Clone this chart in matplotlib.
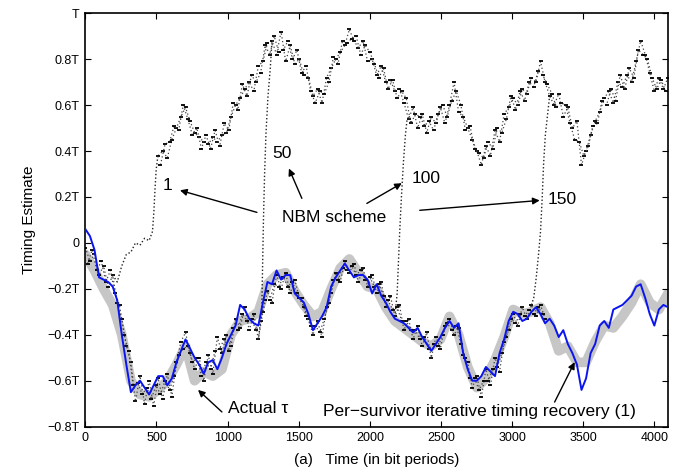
import numpy as np
import matplotlib
matplotlib.use("Agg")
import matplotlib.pyplot as plt

# ---------- DATA ----------

# actual timing offset tau, sampled every 64 bit periods
TAU_STEP = 64
tau = [-0.05, -0.12, -0.20, -0.27, -0.40, -0.60, -0.66, -0.67, -0.64, -0.60,
       -0.53, -0.45, -0.60, -0.56, -0.58, -0.55, -0.40, -0.34, -0.33, -0.30,
       -0.18, -0.14, -0.13, -0.21, -0.27, -0.32, -0.30, -0.20, -0.11, -0.07,
       -0.13, -0.19, -0.20, -0.28, -0.34, -0.37, -0.40, -0.43, -0.45, -0.42,
       -0.32, -0.40, -0.54, -0.63, -0.59, -0.51, -0.41, -0.29, -0.31, -0.30,
       -0.28, -0.35, -0.47, -0.45, -0.52, -0.52, -0.43, -0.36, -0.37, -0.32,
       -0.26, -0.18, -0.26, -0.29, -0.22]

# per-survivor iterative timing estimate, every 32 bit periods
PS_STEP = 32
per_survivor = [
    0.06, 0.03, -0.03, -0.15, -0.16, -0.17, -0.19, -0.25, -0.40, -0.53,
    -0.65, -0.62, -0.60, -0.63, -0.66, -0.62, -0.58, -0.58, -0.62, -0.59,
    -0.52, -0.47, -0.42, -0.46, -0.50, -0.53, -0.57, -0.52, -0.51, -0.55,
    -0.50, -0.44, -0.40, -0.36, -0.27, -0.29, -0.33, -0.35, -0.36, -0.26,
    -0.17, -0.18, -0.12, -0.16, -0.14, -0.14, -0.22, -0.24, -0.26, -0.31,
    -0.38, -0.35, -0.32, -0.28, -0.19, -0.15, -0.12, -0.09, -0.12, -0.15,
    -0.14, -0.14, -0.16, -0.22, -0.18, -0.23, -0.26, -0.30, -0.33, -0.34,
    -0.35, -0.37, -0.39, -0.37, -0.41, -0.44, -0.47, -0.44, -0.41, -0.37,
    -0.34, -0.37, -0.35, -0.48, -0.55, -0.60, -0.60, -0.58, -0.54, -0.56,
    -0.58, -0.48, -0.42, -0.34, -0.30, -0.31, -0.34, -0.33, -0.30, -0.28,
    -0.31, -0.35, -0.33, -0.36, -0.41, -0.38, -0.44, -0.48, -0.53, -0.64,
    -0.59, -0.48, -0.44, -0.36, -0.34, -0.37, -0.29, -0.28, -0.27, -0.25,
    -0.23, -0.19, -0.18, -0.24, -0.31, -0.36, -0.29, -0.27, -0.28]

# NBM estimates while still locked to tau, two runs every 32 bits
NBM_STEP = 32
nbm_low_a = [
    -0.02, -0.08, -0.05, -0.14, -0.10, -0.19, -0.14, -0.26, -0.33, -0.45,
    -0.52, -0.69, -0.58, -0.70, -0.60, -0.71, -0.59, -0.68, -0.57, -0.67,
    -0.52, -0.43, -0.39, -0.48, -0.55, -0.50, -0.60, -0.49, -0.57, -0.41,
    -0.48, -0.40, -0.45, -0.33, -0.37, -0.28, -0.38, -0.31, -0.42, -0.30,
    -0.21, -0.26, -0.14, -0.20, -0.13, -0.22, -0.16, -0.24, -0.28, -0.33,
    -0.40, -0.34, -0.41, -0.28, -0.22, -0.13, -0.17, -0.08, -0.13, -0.09,
    -0.17, -0.11, -0.19, -0.14, -0.22, -0.17, -0.28, -0.23, -0.32, -0.27,
    -0.38, -0.33, -0.42, -0.36, -0.45, -0.39, -0.50, -0.41, -0.46, -0.36,
    -0.33, -0.40, -0.37, -0.49, -0.52, -0.63, -0.58, -0.67, -0.55, -0.62,
    -0.50, -0.56, -0.43, -0.38, -0.31, -0.36, -0.28, -0.33, -0.27, -0.32,
    -0.27, -0.33]
nbm_low_b = [
    -0.09, -0.03, -0.12, -0.08, -0.17, -0.12, -0.22, -0.27, -0.40, -0.47,
    -0.62, -0.61, -0.66, -0.63, -0.68, -0.62, -0.66, -0.60, -0.64, -0.58,
    -0.49, -0.46, -0.45, -0.52, -0.50, -0.58, -0.52, -0.55, -0.47, -0.46,
    -0.42, -0.47, -0.37, -0.38, -0.31, -0.34, -0.33, -0.38, -0.34, -0.25,
    -0.25, -0.18, -0.19, -0.15, -0.19, -0.17, -0.22, -0.24, -0.32, -0.36,
    -0.36, -0.39, -0.33, -0.26, -0.16, -0.16, -0.11, -0.12, -0.10, -0.14,
    -0.12, -0.16, -0.15, -0.19, -0.18, -0.23, -0.25, -0.29, -0.28, -0.34,
    -0.34, -0.38, -0.38, -0.42, -0.41, -0.46, -0.44, -0.45, -0.40, -0.35,
    -0.38, -0.36, -0.44, -0.50, -0.59, -0.59, -0.64, -0.60, -0.60, -0.55,
    -0.54, -0.48, -0.41, -0.33, -0.35, -0.31, -0.32, -0.29, -0.31, -0.28,
    -0.31]

# NBM estimates after the cycle slip (tau + T), from bit 512 on
NBM_HIGH_START = 512
nbm_high_a = [
    0.38, 0.40, 0.37, 0.45, 0.50, 0.55, 0.59, 0.53, 0.48, 0.46,
    0.44, 0.43, 0.46, 0.44, 0.47, 0.48, 0.55, 0.60, 0.63, 0.67,
    0.70, 0.66, 0.77, 0.79, 0.87, 0.88, 0.82, 0.92, 0.79, 0.86,
    0.78, 0.80, 0.73, 0.72, 0.64, 0.67, 0.61, 0.72, 0.76, 0.80,
    0.83, 0.86, 0.93, 0.88, 0.85, 0.88, 0.79, 0.80, 0.73, 0.77,
    0.70, 0.71, 0.66, 0.67, 0.61, 0.54, 0.59, 0.50, 0.56, 0.48,
    0.55, 0.52, 0.59, 0.52, 0.60, 0.70, 0.57, 0.55, 0.50, 0.45,
    0.40, 0.34, 0.42, 0.38, 0.49, 0.44, 0.56, 0.59, 0.63, 0.60,
    0.67, 0.65, 0.72, 0.70, 0.79, 0.70, 0.64, 0.60, 0.65, 0.55,
    0.59, 0.50, 0.53, 0.34, 0.40, 0.47, 0.53, 0.57, 0.63, 0.66,
    0.61, 0.70, 0.68, 0.73, 0.70, 0.79, 0.88, 0.82, 0.74, 0.66,
    0.72, 0.67, 0.72]
nbm_high_b = [
    0.34, 0.43, 0.44, 0.51, 0.49, 0.60, 0.54, 0.47, 0.50, 0.41,
    0.47, 0.41, 0.49, 0.42, 0.52, 0.49, 0.61, 0.58, 0.69, 0.64,
    0.73, 0.70, 0.74, 0.86, 0.82, 0.90, 0.83, 0.84, 0.88, 0.80,
    0.84, 0.74, 0.77, 0.66, 0.61, 0.66, 0.65, 0.70, 0.81, 0.78,
    0.88, 0.87, 0.89, 0.90, 0.82, 0.86, 0.83, 0.78, 0.72, 0.76,
    0.67, 0.71, 0.63, 0.66, 0.63, 0.52, 0.56, 0.55, 0.51, 0.53,
    0.49, 0.56, 0.60, 0.55, 0.62, 0.66, 0.60, 0.49, 0.51, 0.41,
    0.39, 0.37, 0.44, 0.41, 0.50, 0.48, 0.54, 0.64, 0.58, 0.66,
    0.62, 0.70, 0.68, 0.75, 0.73, 0.69, 0.65, 0.59, 0.61, 0.60,
    0.52, 0.45, 0.44, 0.38, 0.42, 0.51, 0.52, 0.62, 0.60, 0.67,
    0.62, 0.73, 0.67, 0.76, 0.72, 0.84, 0.82, 0.80, 0.72, 0.67,
    0.71, 0.66]

# cycle-slip transitions of the NBM runs: iteration, bit positions, estimates
slip_iters = [1, 50, 100, 150]
slip_x = [
    [192, 224, 256, 288, 320, 352, 384, 416, 448, 472, 482, 490, 498, 506, 512],
    [1216, 1240, 1246, 1252, 1260, 1270, 1284, 1300, 1312],
    [2176, 2192, 2200, 2210, 2222, 2236, 2250, 2262, 2272],
    [3136, 3152, 3170, 3186, 3200, 3212, 3222, 3234, 3248, 3264],
]
slip_y = [
    [-0.14, -0.17, -0.10, -0.05, -0.04, 0.00, -0.01, 0.02, 0.01, 0.05, 0.14,
     0.24, 0.32, 0.36, 0.38],
    [-0.42, -0.30, -0.10, 0.10, 0.30, 0.48, 0.64, 0.76, 0.88],
    [-0.32, -0.22, -0.10, 0.05, 0.20, 0.35, 0.47, 0.54, 0.54],
    [-0.27, -0.24, -0.15, -0.05, 0.05, 0.20, 0.35, 0.47, 0.55, 0.64],
]

N_BITS = 4096
YTICKS = [-0.8, -0.6, -0.4, -0.2, 0, 0.2, 0.4, 0.6, 0.8, 1.0]
YTICK_LABELS = ["\u22120.8T", "\u22120.6T", "\u22120.4T", "\u22120.2T", "0",
                "0.2T", "0.4T", "0.6T", "0.8T", "T"]


# ---------- HELPERS ----------

def nbm_track(ax, x, y):
    """Noisy NBM estimate: dotted trace with a dash at every sample."""
    ax.plot(x, y, color="#444444", lw=0.9, linestyle=(0, (1, 2)), zorder=2)
    ax.plot(x, y, linestyle="none", marker="_", markersize=3.5,
            markeredgewidth=1.3, color="black", zorder=2)


def arrow(ax, text_xy, head_xy):
    ax.annotate("", xy=head_xy, xytext=text_xy,
                arrowprops=dict(arrowstyle="-|>", color="black", lw=1.0,
                                mutation_scale=10, shrinkA=0, shrinkB=0))


# ---------- PLOTTING ----------

plt.rcParams["font.family"] = ["Liberation Sans", "DejaVu Sans"]

fig = plt.figure(figsize=(6.83, 4.73), dpi=100)
ax = fig.add_axes([0.125, 0.098, 0.853, 0.874])

ax.plot(np.arange(len(tau)) * TAU_STEP, tau, color="#c6c6c6", lw=7,
        solid_capstyle="round", solid_joinstyle="round", zorder=1)

# NBM runs: low tracks until the last slip, high tracks after the first one
half = NBM_STEP // 2
nbm_track(ax, np.arange(len(nbm_low_a)) * NBM_STEP, nbm_low_a)
nbm_track(ax, half + np.arange(len(nbm_low_b)) * NBM_STEP, nbm_low_b)
nbm_track(ax, NBM_HIGH_START + np.arange(len(nbm_high_a)) * NBM_STEP, nbm_high_a)
nbm_track(ax, NBM_HIGH_START + half + np.arange(len(nbm_high_b)) * NBM_STEP,
          nbm_high_b)
for xs, ys in zip(slip_x, slip_y):
    ax.plot(xs, ys, color="#222222", lw=1.0, linestyle=(0, (1, 1.6)), zorder=2)

ax.plot(np.arange(len(per_survivor)) * PS_STEP, per_survivor, color="#0a14f0",
        lw=1.4, zorder=3)

# labels for the NBM iterations
ax.text(1749, 0.112, "NBM scheme", fontsize=12.5, ha="center", va="center")
ax.text(545, 0.25, str(slip_iters[0]), fontsize=12.5, ha="left", va="center")
arrow(ax, (1206, 0.133), (665, 0.229))
ax.text(1311, 0.39, str(slip_iters[1]), fontsize=12.5, ha="left", va="center")
arrow(ax, (1522, 0.194), (1431, 0.324))
ax.text(2297, 0.28, str(slip_iters[2]), fontsize=12.5, ha="left", va="center")
arrow(ax, (1979, 0.172), (2225, 0.26))
ax.text(3250, 0.19, str(slip_iters[3]), fontsize=12.5, ha="left", va="center")
arrow(ax, (2351, 0.142), (3194, 0.185))

ax.text(1004, -0.72, "Actual \u03c4", fontsize=12.5, ha="left", va="center")
arrow(ax, (960, -0.736), (792, -0.64))
ax.text(1670, -0.736, "Per\u2212survivor iterative timing recovery (1)",
        fontsize=12.5, ha="left", va="center")
arrow(ax, (3299, -0.693), (3440, -0.519))

ax.set_xlim(0, N_BITS)
ax.set_ylim(-0.8, 1.0)
ax.set_xticks([0, 500, 1000, 1500, 2000, 2500, 3000, 3500, 4000])
ax.set_yticks(YTICKS)
ax.set_yticklabels(YTICK_LABELS)
ax.tick_params(direction="in", top=True, right=True, length=4, width=0.8,
               labelsize=9, pad=4)
for spine in ax.spines.values():
    spine.set_linewidth(1.2)

ax.set_xlabel("(a)   Time (in bit periods)", fontsize=11, labelpad=6)
ax.set_ylabel("Timing Estimate", fontsize=11, labelpad=8)

fig.savefig("out.png", dpi=100)
